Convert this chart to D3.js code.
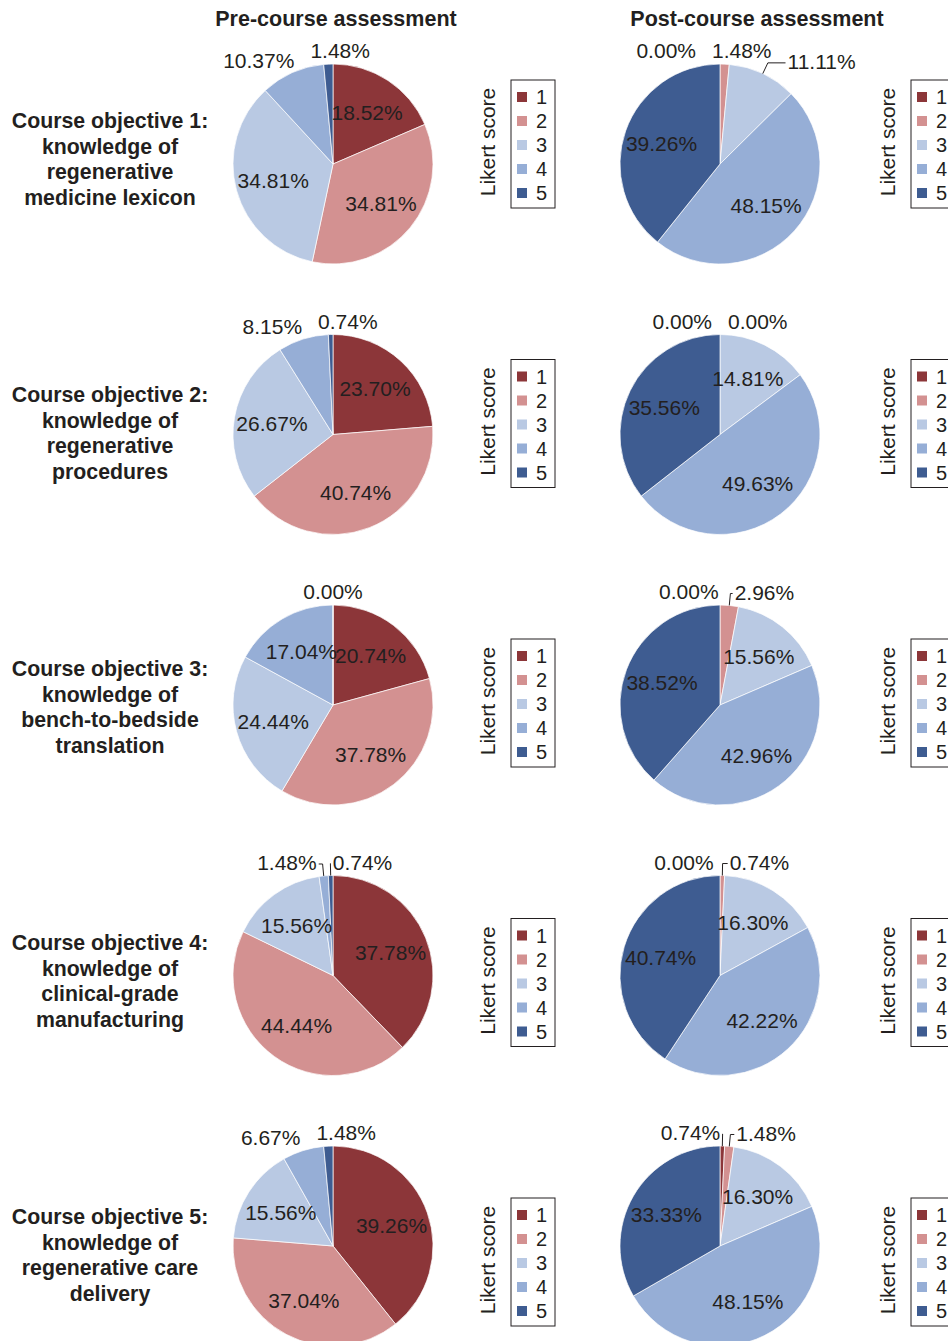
<!DOCTYPE html>
<html>
<head>
<meta charset="utf-8">
<script src="https://cdn.jsdelivr.net/npm/d3@7"></script>
<style>
  body{margin:0;background:#fff;}
  svg text{font-family:"Liberation Sans", Arial, Helvetica, sans-serif;fill:#231f20;}
</style>
</head>
<body>
<svg id="chart" width="948" height="1341"></svg>
<script>
// data
var scores = ["1", "2", "3", "4", "5"];
var columns = ["Pre-course assessment", "Post-course assessment"];
var objectives = [
    ["Course objective 1:", "knowledge of", "regenerative", "medicine lexicon"],
    ["Course objective 2:", "knowledge of", "regenerative", "procedures"],
    ["Course objective 3:", "knowledge of", "bench-to-bedside", "translation"],
    ["Course objective 4:", "knowledge of", "clinical-grade", "manufacturing"],
    ["Course objective 5:", "knowledge of", "regenerative care", "delivery"]
];
var preValues = [
    [18.52, 34.81, 34.81, 10.37, 1.48],
    [23.70, 40.74, 26.67, 8.15, 0.74],
    [20.74, 37.78, 24.44, 17.04, 0.00],
    [37.78, 44.44, 15.56, 1.48, 0.74],
    [39.26, 37.04, 15.56, 6.67, 1.48]
];
var postValues = [
    [0.00, 1.48, 11.11, 48.15, 39.26],
    [0.00, 0.00, 14.81, 49.63, 35.56],
    [0.00, 2.96, 15.56, 42.96, 38.52],
    [0.00, 0.74, 16.30, 42.22, 40.74],
    [0.74, 1.48, 16.30, 48.15, 33.33]
];
var legendTitle = "Likert score";

var colors = ["#8c3639", "#d39191", "#b9c9e3", "#96aed6", "#3e5c91"];

var svg = d3.select("#chart");
var R = 100;

var color = d3.scaleOrdinal().domain(scores).range(colors);
var rowY = d3.scaleLinear().domain([0, 4]).range([164, 1246]);
var textY = d3.scaleLinear().domain([0, 4]).range([159, 1255]);
var legendY = d3.scaleLinear().domain([0, 4]).range([80, 1198]);
var colX = d3.scalePoint().domain(columns).range([333, 720]);
var titleX = d3.scalePoint().domain(columns).range([336, 757]);
var legendX = d3.scalePoint().domain(columns).range([511, 911]);

var pie = d3.pie().sort(null).value(function(d){return d;});
var arc = d3.arc().innerRadius(0).outerRadius(R);
var inLabel = d3.arc().innerRadius(62).outerRadius(62);

// column titles
svg.selectAll("text.title")
    .data(columns)
    .enter().append("text")
    .attr("class", "title")
    .attr("x", function(d){return titleX(d);})
    .attr("y", 26)
    .attr("text-anchor", "middle")
    .style("font-weight", "bold")
    .style("font-size", "21.5px")
    .text(function(d){return d;});

// row titles
objectives.forEach(function(lines, i){
    var t = svg.append("text")
	.attr("text-anchor", "middle")
	.style("font-weight", "bold")
	.style("font-size", "21.3px");
    lines.forEach(function(l, j){
	t.append("tspan")
	    .attr("x", 110)
	    .attr("y", textY(i) + (j - 1.5) * 25.5)
	    .attr("dy", "0.35em")
	    .text(l);
    });
});

function drawPie(values, col, row){
    var cx = colX(col), cy = rowY(row);
    var g = svg.append("g").attr("transform", "translate(" + cx + "," + cy + ")");
    var arcs = pie(values);

    g.selectAll("path")
	.data(arcs)
	.enter().append("path")
	.attr("d", arc)
	.attr("fill", function(d, i){return color(scores[i]);})
	.attr("stroke", "#fff")
	.attr("stroke-width", 0.7);

    // big slices: label inside
    g.selectAll("text.in")
	.data(arcs.filter(function(d){return d.data >= 12;}))
	.enter().append("text")
	.attr("class", "in")
	.attr("transform", function(d){return "translate(" + inLabel.centroid(d) + ")";})
	.attr("dy", "0.35em")
	.attr("text-anchor", "middle")
	.style("font-size", "21px")
	.text(function(d){return d.data.toFixed(2) + "%";});

    // small slices: label outside, spread apart along the top
    var outs = [];
    arcs.forEach(function(d, i){
	if(d.data >= 12) return;
	var a = (d.startAngle + d.endAngle) / 2;
	var s = a > Math.PI ? a - 2 * Math.PI : a;
	outs.push({d: d, i: i, a: a, s: s});
    });
    outs.sort(function(p, q){return (p.s - q.s) || (p.i - q.i);});

    var texts = g.selectAll("text.out")
	.data(outs)
	.enter().append("text")
	.attr("class", "out")
	.attr("dy", "0.35em")
	.attr("text-anchor", "middle")
	.style("font-size", "21px")
	.text(function(o){return o.d.data.toFixed(2) + "%";});

    texts.each(function(o){
	o.w = this.getComputedTextLength();
	var px = (R + 13) * Math.sin(o.a);
	o.y = -(R + 13) * Math.cos(o.a);
	o.x0 = px + Math.sin(o.a) * o.w / 2;
	o.x = o.x0;
    });

    var gap = 16;
    for(var k = 0; k < 200; k++){
	for(var j = 0; j < outs.length - 1; j++){
	    var l = outs[j], r = outs[j + 1];
	    var ov = (l.x + l.w / 2 + gap) - (r.x - r.w / 2);
	    if(ov > 0){ l.x -= ov / 2; r.x += ov / 2; }
	}
    }
    texts.attr("x", function(o){return o.x;}).attr("y", function(o){return o.y;});

    // leader lines for labels moved away from their slice
    g.selectAll("path.lead")
	.data(outs.filter(function(o){return o.d.data > 0 && Math.abs(o.x - o.x0) > 28;}))
	.enter().append("path")
	.attr("class", "lead")
	.attr("fill", "none")
	.attr("stroke", "#231f20")
	.attr("stroke-width", 1)
	.attr("d", function(o){
	    var rx = R * Math.sin(o.a), ry = -R * Math.cos(o.a);
	    var ey = o.y + 1;
	    var ex = (-ey / Math.cos(o.a)) * Math.sin(o.a);
	    var tx = o.x < rx ? o.x + o.w / 2 + 2 : o.x - o.w / 2 - 2;
	    return "M" + rx + "," + ry + "L" + ex + "," + ey + "L" + tx + "," + ey;
	});
}

function drawLegend(col, row){
    var x = legendX(col), y = legendY(row);
    var g = svg.append("g").attr("transform", "translate(" + x + "," + y + ")");
    g.append("rect")
	.attr("width", 44).attr("height", 128)
	.attr("fill", "none")
	.attr("stroke", "#231f20")
	.attr("stroke-width", 1);
    var items = g.selectAll("g.item")
	.data(scores)
	.enter().append("g")
	.attr("transform", function(d, i){return "translate(0," + (17 + i * 24) + ")";});
    items.append("rect")
	.attr("x", 6).attr("y", -5)
	.attr("width", 10).attr("height", 10)
	.attr("fill", function(d){return color(d);});
    items.append("text")
	.attr("x", 25)
	.attr("dy", "0.35em")
	.style("font-size", "20px")
	.text(function(d){return d;});
    g.append("text")
	.attr("transform", "translate(-23,62) rotate(-90)")
	.attr("dy", "0.35em")
	.attr("text-anchor", "middle")
	.style("font-size", "21px")
	.text(legendTitle);
}

for(var i = 0; i < objectives.length; i++){
    drawPie(preValues[i], columns[0], i);
    drawPie(postValues[i], columns[1], i);
    drawLegend(columns[0], i);
    drawLegend(columns[1], i);
}
</script>
</body>
</html>
